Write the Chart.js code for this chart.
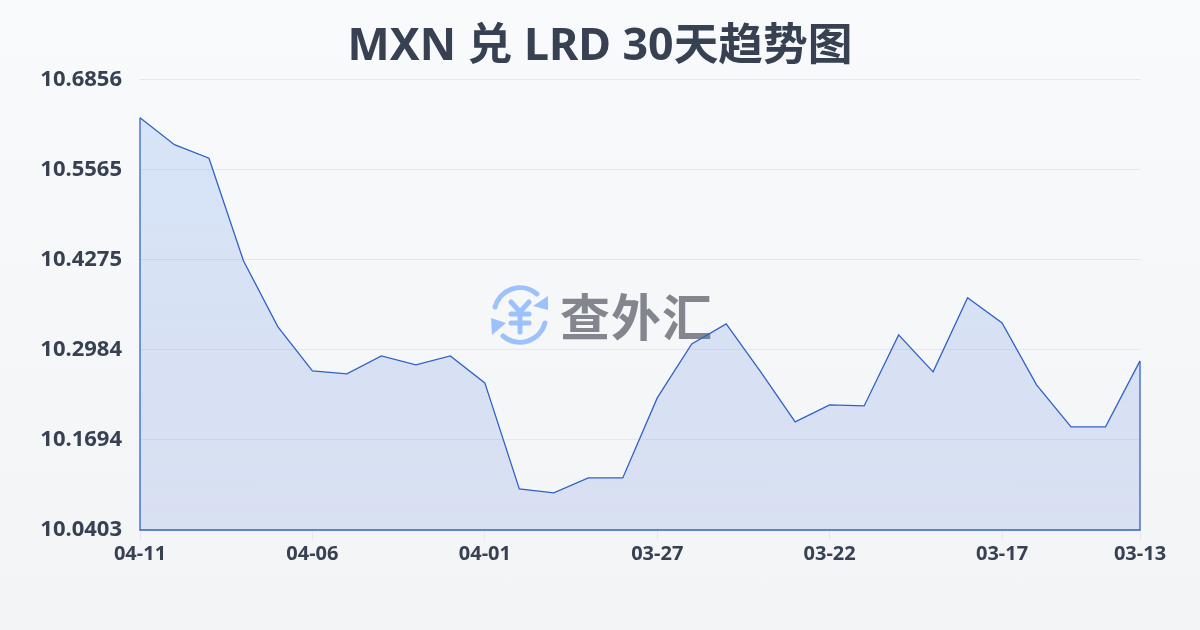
<!DOCTYPE html>
<html>
<head>
<meta charset="utf-8">
<style>
  html, body { margin: 0; padding: 0; }
  body {
    width: 1200px; height: 630px; position: relative; overflow: hidden;
    background: linear-gradient(180deg, #f8fafc 0%, #f3f4f6 100%);
  }
  #mark { position: absolute; left: 490px; top: 285px; width: 225px; height: 60px; display: flex; align-items: center; }
  #mark span { font: 700 50px "Noto Sans CJK SC", sans-serif; color: #83868f; margin-left: 10px; line-height: 60px; letter-spacing: 1px; position: relative; top: -1px; }
  #box { position: absolute; left: 0; top: 0; width: 1200px; height: 630px; }
</style>
</head>
<body>
<div id="mark">
  <svg width="60" height="60" viewBox="0 0 60 60" fill="none" stroke="#9dc1fb" stroke-width="5" stroke-linecap="round">
    <path d="M5 22 A26 26 0 0 1 47 9"/>
    <path d="M55 38 A26 26 0 0 1 13 51"/>
    <path d="M58 11 L58 25 L43 21 Z" fill="#9dc1fb" stroke="none"/>
    <path d="M1 33 L16 38 L2 50 Z" fill="#9dc1fb" stroke="none"/>
    <path d="M21 17 L30 27 L39 17 M21 29 H39 M21 38 H39 M30 27 V47"/>
  </svg>
  <span>查外汇</span>
</div>
<div id="box"><canvas id="chart" width="1200" height="630"></canvas></div>
<script src="https://cdn.jsdelivr.net/npm/chart.js@4"></script>
<script>
const TITLE = "MXN 兑 LRD 30天趋势图";
const dates = ["04-11","04-10","04-09","04-08","04-07","04-06","04-05","04-04","04-03","04-02",
  "04-01","03-31","03-30","03-29","03-28","03-27","03-26","03-25","03-24","03-23",
  "03-22","03-21","03-20","03-19","03-18","03-17","03-16","03-15","03-14","03-13"];
const rates = [10.6311,10.5924,10.5730,10.4260,10.3314,10.2683,10.2640,10.2898,10.2769,10.2898,
  10.2511,10.0991,10.0934,10.1149,10.1149,10.2296,10.3070,10.3357,10.2669,10.1952,
  10.2196,10.2181,10.3199,10.2669,10.3730,10.3371,10.2482,10.1880,10.1880,10.2826];
const yTicks = [10.0403,10.1694,10.2984,10.4275,10.5565,10.6856];
const xTicks = ["04-11","04-06","04-01","03-27","03-22","03-17","03-13"];

const FONT = '"Noto Sans", "Noto Sans CJK SC", sans-serif';
const first = dates[0], last = dates[dates.length - 1];
const yMin = yTicks[0], yMax = yTicks[yTicks.length - 1];

// 面积外框：右、下、左三条边
const edge = [
  { x: last, y: rates[rates.length - 1] },
  { x: last, y: yMin },
  { x: first, y: yMin },
  { x: first, y: rates[0] },
];

new Chart(document.getElementById("chart"), {
  type: "line",
  data: {
    labels: dates,
    datasets: [
      {
        data: rates,
        borderColor: "#2f62c8",
        borderWidth: 1.3,
        tension: 0,
        pointRadius: 0,
        fill: "start",
        backgroundColor: (c) => {
          const area = c.chart.chartArea;
          if (!area) return "rgba(120,165,235,0.25)";
          const g = c.chart.ctx.createLinearGradient(0, area.top, 0, area.bottom);
          g.addColorStop(0, "rgba(100,155,235,0.21)");
          g.addColorStop(1, "rgba(65,105,215,0.15)");
          return g;
        },
      },
      {
        data: edge,
        borderColor: "#2f62c8",
        borderWidth: 1.3,
        pointRadius: 0,
        fill: false,
        clip: false,
      },
    ],
  },
  options: {
    responsive: false,
    animation: false,
    layout: { padding: { top: 0, right: 0, bottom: 62, left: 0 } },
    plugins: {
      legend: { display: false },
      tooltip: { enabled: false },
      title: {
        display: true,
        text: TITLE,
        color: "#374151",
        font: { family: FONT, size: 44.7, weight: "bold" },
        padding: { top: 20, bottom: 6 },
      },
    },
    scales: {
      x: {
        grid: { drawOnChartArea: false, color: "#e5e7eb", tickLength: 10 },
        border: { display: false },
        ticks: {
          autoSkip: false,
          maxRotation: 0,
          padding: 2,
          color: "#374151",
          font: { family: FONT, size: 20, weight: "bold" },
          callback(value) {
            const label = this.getLabelForValue(value);
            return xTicks.includes(label) ? label : "";
          },
        },
        afterBuildTicks(axis) {
          axis.ticks = axis.ticks.filter((t) => xTicks.includes(dates[t.value]));
        },
      },
      y: {
        min: yMin,
        max: yMax,
        afterBuildTicks(axis) {
          axis.ticks = yTicks.map((v) => ({ value: v }));
        },
        afterFit(axis) {
          axis.width = 140;
        },
        grid: { color: "#e5e7eb", drawTicks: false },
        border: { display: false },
        ticks: {
          padding: 18,
          color: "#374151",
          font: { family: FONT, size: 22, weight: "bold" },
          callback: (v) => v.toFixed(4),
        },
      },
      // 右侧留白，让标题在整张图上居中
      spacer: {
        position: "right",
        grid: { display: false },
        border: { display: false },
        ticks: { display: false },
        afterFit(axis) {
          axis.width = 60;
        },
      },
    },
  },
});
</script>
</body>
</html>
